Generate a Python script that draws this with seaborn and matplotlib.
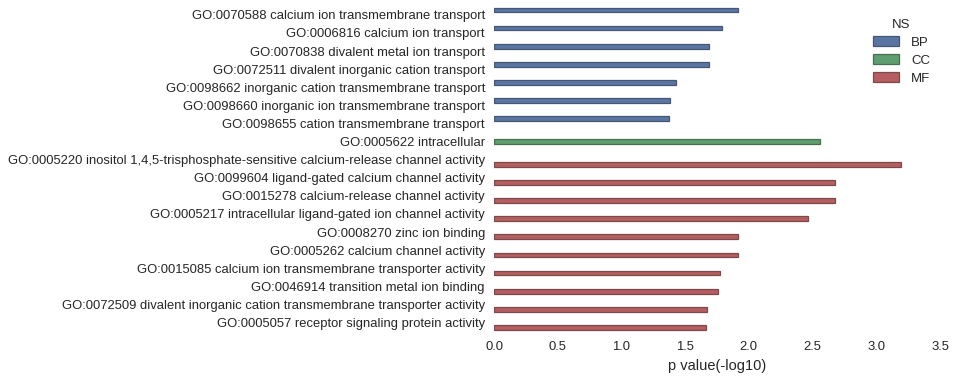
import matplotlib
matplotlib.use("Agg")
import matplotlib.pyplot as plt
import matplotlib.colors as mcolors
import seaborn as sns
import pandas as pd

terms = [
    "GO:0070588 calcium ion transmembrane transport",
    "GO:0006816 calcium ion transport",
    "GO:0070838 divalent metal ion transport",
    "GO:0072511 divalent inorganic cation transport",
    "GO:0098662 inorganic cation transmembrane transport",
    "GO:0098660 inorganic ion transmembrane transport",
    "GO:0098655 cation transmembrane transport",
    "GO:0005622 intracellular",
    "GO:0005220 inositol 1,4,5-trisphosphate-sensitive calcium-release channel activity",
    "GO:0099604 ligand-gated calcium channel activity",
    "GO:0015278 calcium-release channel activity",
    "GO:0005217 intracellular ligand-gated ion channel activity",
    "GO:0008270 zinc ion binding",
    "GO:0005262 calcium channel activity",
    "GO:0015085 calcium ion transmembrane transporter activity",
    "GO:0046914 transition metal ion binding",
    "GO:0072509 divalent inorganic cation transmembrane transporter activity",
    "GO:0005057 receptor signaling protein activity",
]
ns = ["BP"] * 7 + ["CC"] + ["MF"] * 10
pvals = [1.911, 1.786, 1.686, 1.686, 1.427, 1.380, 1.372,
         2.555,
         3.194, 2.675, 2.675, 2.463, 1.914, 1.914, 1.772, 1.757, 1.670, 1.662]
ns_order = ["BP", "CC", "MF"]
colors = ["#4C72B0", "#55A868", "#C44E52"]

df = pd.DataFrame({"term": terms, "NS": ns, "p": pvals})

sns.set_style("white")
plt.rcParams["font.family"] = ["Liberation Sans", "DejaVu Sans"]
plt.rcParams["text.color"] = "#262626"
plt.rcParams["axes.labelcolor"] = "#262626"
plt.rcParams["xtick.color"] = "#262626"
plt.rcParams["ytick.color"] = "#262626"

fig = plt.figure(figsize=(9.56, 3.79), dpi=100)
ax = fig.add_axes([494 / 956, 1 - 331.6 / 379, (940 - 494) / 956, (331.6 - 5.75) / 379])

sns.barplot(data=df, x="p", y="term", hue="NS", hue_order=ns_order, order=terms,
            palette=colors, saturation=0.75, orient="h", dodge=True, ax=ax,
            errorbar=None)


def edge_of(fc):
    fc = mcolors.to_rgb(fc)
    return tuple(0.55 * c + 0.45 * 0.2 for c in fc)


for p in ax.patches:
    p.set_edgecolor(edge_of(p.get_facecolor()))
    p.set_linewidth(0.9)

ax.set_xlim(0, 3.5)
ax.set_xticks([0, 0.5, 1.0, 1.5, 2.0, 2.5, 3.0, 3.5])
ax.set_xticklabels(["0.0", "0.5", "1.0", "1.5", "2.0", "2.5", "3.0", "3.5"])
ax.set_ylabel("")
ax.set_xlabel("p value(-log10)", fontsize=10.5)
ax.tick_params(axis="both", length=0, labelsize=9.4)
ax.tick_params(axis="x", pad=7)
ax.tick_params(axis="y", pad=6.5)
sns.despine(ax=ax, left=True, bottom=True)

leg = ax.legend(title="NS", loc="upper right", bbox_to_anchor=(1.005, 0.996),
                frameon=False, fontsize=9.5, title_fontsize=9.5,
                handlelength=2.0, handleheight=0.75, labelspacing=0.42,
                handletextpad=0.9)
for h in leg.legend_handles:
    h.set_edgecolor(edge_of(h.get_facecolor()))
    h.set_linewidth(0.9)

fig.savefig("out.png", dpi=100)
